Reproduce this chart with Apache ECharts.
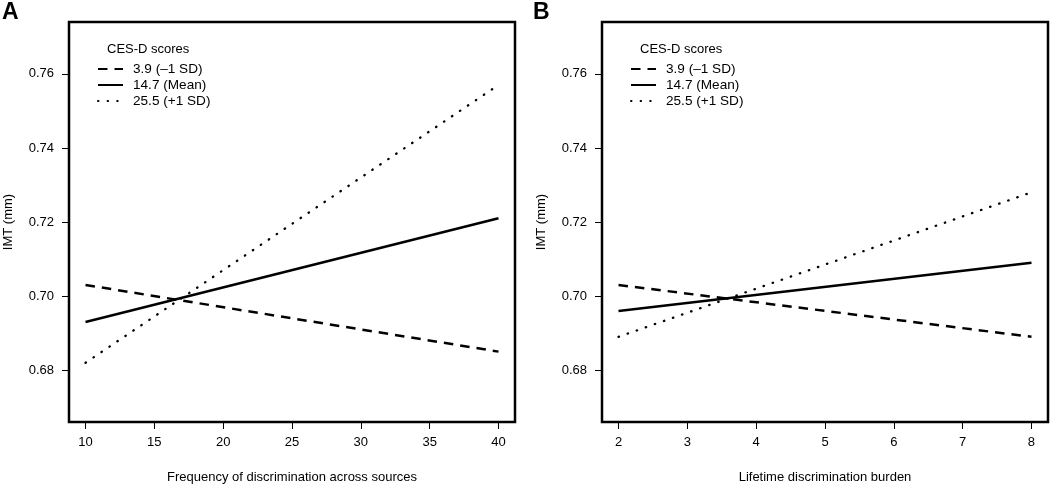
<!DOCTYPE html>
<html>
<head>
<meta charset="utf-8">
<script src="https://cdn.jsdelivr.net/npm/echarts@6/dist/echarts.min.js"></script>
<style>html,body{margin:0;padding:0;background:#fff;}#c{width:1050px;height:484px;}</style>
</head>
<body>
<div id="c"></div>
<script>
// Data
const seriesNames = ['3.9 (\u20131 SD)', '14.7 (Mean)', '25.5 (+1 SD)'];
const xA = [10, 40];
const lowA = [0.703, 0.685];
const meanA = [0.693, 0.721];
const highA = [0.682, 0.757];
const xB = [2, 8];
const lowB = [0.703, 0.689];
const meanB = [0.696, 0.709];
const highB = [0.689, 0.728];
const xTicksA = [10, 15, 20, 25, 30, 35, 40];
const xTicksB = [2, 3, 4, 5, 6, 7, 8];
const yTicks = [0.68, 0.70, 0.72, 0.74, 0.76];

const FONT = 'Liberation Sans';
const pair = (xs, ys) => xs.map((x, i) => [x, ys[i]]);
const styles = [
  { type: [9.5, 7], width: 2.5, cap: 'butt' },
  { type: 'solid', width: 2.5, cap: 'butt' },
  { type: [0.5, 9.1], width: 2.3, cap: 'round' }
];

function xAxisCfg(grid, min, max, ticks, name) {
  return {
    type: 'value', gridIndex: grid, min: min, max: max,
    name: name, nameLocation: 'middle', nameGap: 49,
    nameTextStyle: { fontFamily: FONT, fontSize: 13, color: '#000' },
    axisLine: { show: false },
    axisTick: { show: true, inside: false, length: 7, customValues: ticks, lineStyle: { color: '#000', width: 1 } },
    axisLabel: { show: true, margin: 14, customValues: ticks, fontFamily: FONT, fontSize: 13, color: '#000', formatter: v => String(v) },
    splitLine: { show: false }
  };
}
function yAxisCfg(grid) {
  return {
    type: 'value', gridIndex: grid, min: 0.666, max: 0.774,
    name: 'IMT (mm)', nameLocation: 'middle', nameGap: 54,
    nameTextStyle: { fontFamily: FONT, fontSize: 13, color: '#000' },
    axisLine: { show: false },
    axisTick: { show: true, inside: false, length: 7, customValues: yTicks, lineStyle: { color: '#000', width: 1 } },
    axisLabel: { show: true, margin: 15, customValues: yTicks, fontFamily: FONT, fontSize: 13, color: '#000', formatter: v => v.toFixed(2) },
    splitLine: { show: false }
  };
}
function makeSeries(grid, xs, arrs) {
  return arrs.map((ys, i) => ({
    type: 'line', name: seriesNames[i], xAxisIndex: grid, yAxisIndex: grid,
    data: pair(xs, ys), symbol: 'none', silent: true, animation: false,
    color: '#000',
    itemStyle: { color: '#000', opacity: 0 },
    lineStyle: Object.assign({ color: '#000' }, styles[i])
  }));
}
function legendCfg(left, top) {
  return {
    left: left, top: top, orient: 'vertical', data: seriesNames, padding: 0,
    itemWidth: 25, itemHeight: 14, itemGap: 2, selectedMode: false,
    itemStyle: { opacity: 0 },
    textStyle: { fontFamily: FONT, fontSize: 13.6, color: '#000', padding: [0, 0, 0, 5] }
  };
}

const chart = echarts.init(document.getElementById('c'), null, { renderer: 'canvas' });
chart.setOption({
  animation: false,
  backgroundColor: '#fff',
  title: [
    { text: 'A', left: 2, top: 1, padding: 0, textStyle: { fontFamily: FONT, fontSize: 23, fontWeight: 'bold', color: '#000' } },
    { text: 'B', left: 533, top: 1, padding: 0, textStyle: { fontFamily: FONT, fontSize: 23, fontWeight: 'bold', color: '#000' } },
    { text: 'CES-D scores', left: 107, top: 43, padding: 0, textStyle: { fontFamily: FONT, fontSize: 13, fontWeight: 'normal', color: '#000' } },
    { text: 'CES-D scores', left: 640, top: 43, padding: 0, textStyle: { fontFamily: FONT, fontSize: 13, fontWeight: 'normal', color: '#000' } }
  ],
  legend: [legendCfg(97, 62), legendCfg(630, 62)],
  grid: [
    { left: 69, right: 535, top: 22, bottom: 62, show: true, borderColor: '#000', borderWidth: 2.5, backgroundColor: 'transparent', outerBoundsMode: 'none', containLabel: false },
    { left: 602, right: 2, top: 22, bottom: 62, show: true, borderColor: '#000', borderWidth: 2.5, backgroundColor: 'transparent', outerBoundsMode: 'none', containLabel: false }
  ],
  xAxis: [
    xAxisCfg(0, 8.8, 41.2, xTicksA, 'Frequency of discrimination across sources'),
    xAxisCfg(1, 1.76, 8.24, xTicksB, 'Lifetime discrimination burden')
  ],
  yAxis: [yAxisCfg(0), yAxisCfg(1)],
  series: makeSeries(0, xA, [lowA, meanA, highA]).concat(makeSeries(1, xB, [lowB, meanB, highB]))
});
</script>
</body>
</html>
